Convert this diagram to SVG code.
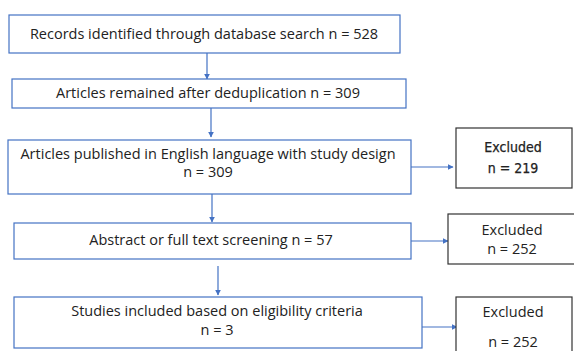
<svg xmlns="http://www.w3.org/2000/svg" width="574" height="351" viewBox="0 0 574 351">
<defs>
<style>
.box{fill:#fff;stroke:#4472c4;stroke-width:1.2}
.ex{fill:#fff;stroke:#333;stroke-width:1.2}
.t{font-family:"Open Sans","Liberation Sans",sans-serif;font-size:14.5px;fill:#222;text-anchor:middle}
.tn{font-family:"DejaVu Sans Condensed","Liberation Sans",sans-serif;font-stretch:condensed;font-size:14px;fill:#222;stroke:#222;stroke-width:0.25;text-anchor:middle}
.c{stroke:#4472c4;stroke-width:1.2;fill:none;marker-end:url(#ah)}
</style>
<marker id="ah" viewBox="0 0 10 10" refX="9" refY="5" markerWidth="6" markerHeight="6" orient="auto" markerUnits="userSpaceOnUse">
<path d="M0,0 L10,5 L0,10 z" fill="#4472c4"/>
</marker>
</defs>
<rect width="574" height="351" fill="#fff"/>
<g id="connectors">
<line class="c" x1="207" y1="53" x2="207" y2="79"/>
<line class="c" x1="211" y1="108" x2="211" y2="137"/>
<line class="c" x1="212" y1="194" x2="212" y2="222"/>
<line class="c" x1="218" y1="266" x2="218" y2="295"/>
<line class="c" x1="411" y1="167" x2="453" y2="167"/>
<line class="c" x1="411" y1="241" x2="448" y2="241"/>
<line class="c" x1="422" y1="327" x2="457" y2="327"/>
</g>
<g id="n1"><rect class="box" x="9" y="15" width="391" height="38"/><text class="t" x="204" y="39">Records identified through database search n = 528</text></g>
<g id="n2"><rect class="box" x="12" y="79" width="394" height="29"/><text class="t" x="208" y="98">Articles remained after deduplication n = 309</text></g>
<g id="n3"><rect class="box" x="8" y="140" width="403" height="54"/><text class="t" x="208" y="159">Articles published in English language with study design</text><text class="t" x="208" y="177">n = 309</text></g>
<g id="n4"><rect class="box" x="14" y="223" width="397" height="36"/><text class="t" x="211" y="245">Abstract or full text screening n = 57</text></g>
<g id="n5"><rect class="box" x="14" y="297" width="408" height="51"/><text class="t" x="217" y="316">Studies included based on eligibility criteria</text><text class="t" x="217" y="335">n = 3</text></g>
<g id="e1"><rect class="ex" x="456" y="128" width="116" height="60"/><text class="tn" x="513" y="152">Excluded</text><text class="tn" x="513" y="173">n = 219</text></g>
<g id="e2"><rect class="ex" x="448" y="214" width="130" height="50"/><text class="t" x="512" y="235">Excluded</text><text class="t" x="512" y="254">n = 252</text></g>
<g id="e3"><rect class="ex" x="456" y="297" width="116" height="60"/><text class="t" x="513" y="317">Excluded</text><text class="t" x="513" y="347">n = 252</text></g>
</svg>
